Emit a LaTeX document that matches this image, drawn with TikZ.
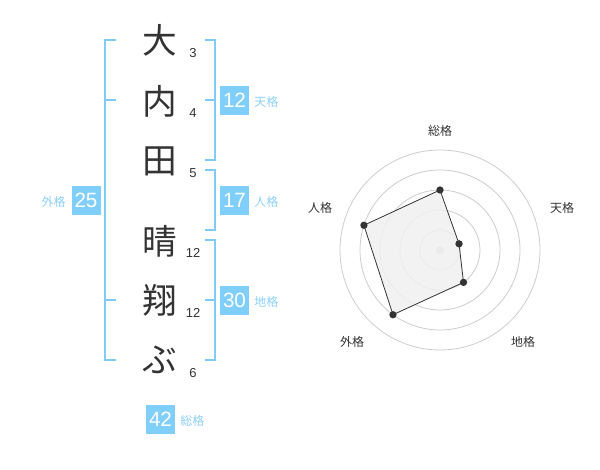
\documentclass[tikz,border=0pt]{standalone}
\usepackage{fontspec}
\setmainfont{Liberation Sans}
\newfontfamily\jp{Noto Sans CJK JP}
\definecolor{brk}{HTML}{80CBF5}
\definecolor{boxc}{HTML}{80CFFA}
\definecolor{lbl}{HTML}{8CD0F8}
\definecolor{ink}{HTML}{333333}
\definecolor{ring}{HTML}{CCCCCC}
\definecolor{area}{HTML}{F0F0F0}
\tikzset{
  kanji/.style={font=\jp\fontsize{26pt}{26pt}\selectfont, text=ink, inner sep=0pt},
  stroke/.style={font=\fontsize{9.75pt}{10pt}\selectfont, text=ink, inner sep=0pt},
  numbox/.style={fill=boxc, text=white, minimum size=21.75pt, inner sep=0pt, font=\fontsize{15.5pt}{16pt}\selectfont},
  kaku/.style={font=\jp\fontsize{9pt}{9pt}\selectfont, text=lbl, inner sep=0pt},
  axlabel/.style={font=\jp\fontsize{9pt}{9pt}\selectfont, text=ink, inner sep=0pt},
  bracket/.style={draw=brk, line width=1.5pt},
  ringline/.style={draw=ring, line width=0.6pt},
  dot/.style={circle, fill=ink, inner sep=0pt, minimum size=5.5pt},
}
\begin{document}
\begin{tikzpicture}[x=0.75pt,y=-0.75pt]
\useasboundingbox (0,0) rectangle (600,470);
% characters
\node[kanji] (c1) at (160,40) {大};
\node[kanji] (c2) at (160,101) {内};
\node[kanji] (c3) at (160,161) {田};
\node[kanji] (c4) at (160,241) {晴};
\node[kanji] (c5) at (160,300) {翔};
\node[kanji] (c6) at (160,360) {ぶ};
% stroke counts
\node[stroke] (s1) at (193,53) {3};
\node[stroke] (s2) at (193,113) {4};
\node[stroke] (s3) at (193,173) {5};
\node[stroke] (s4) at (193,253) {12};
\node[stroke] (s5) at (193,313) {12};
\node[stroke] (s6) at (193,373) {6};
% outer bracket
\draw[bracket] (116,40) -- (105,40) -- (105,360) -- (116,360);
\draw[bracket] (105,100) -- (116,100);
\draw[bracket] (105,300) -- (116,300);
% right brackets
\draw[bracket] (205,40) -- (214.5,40) -- (214.5,160) -- (205,160);
\draw[bracket] (205,100) -- (214.5,100);
\draw[bracket] (205,170) -- (214.5,170) -- (214.5,230) -- (205,230);
\draw[bracket] (205,240) -- (214.5,240) -- (214.5,360) -- (205,360);
\draw[bracket] (205,300) -- (214.5,300);
% boxes
\node[numbox] (b12) at (234.5,100.5) {12};
\node[kaku, anchor=west] (l12) at (254,102) {天格};
\node[numbox] (b17) at (234.5,200.5) {17};
\node[kaku, anchor=west] (l17) at (254,202) {人格};
\node[numbox] (b25) at (86,200.5) {25};
\node[kaku, anchor=east] (l25) at (66,202) {外格};
\node[numbox] (b30) at (234.5,300.5) {30};
\node[kaku, anchor=west] (l30) at (254,302) {地格};
\node[numbox] (b42) at (160.5,419.5) {42};
\node[kaku, anchor=west] (l42) at (180,421) {総格};
% radar
\coordinate (ctr) at (440,250);
\foreach \r in {20,40,60,80,100} \draw[ringline] (ctr) circle[radius=\r];
\node[circle, fill=ring, inner sep=0pt, minimum size=6pt] (cdot) at (ctr) {};
\path (ctr) ++(-90:60) coordinate (pS)
      (ctr) ++(-18:20) coordinate (pT)
      (ctr) ++(54:40) coordinate (pC)
      (ctr) ++(126:80) coordinate (pG)
      (ctr) ++(-162:80) coordinate (pJ);
\draw[fill=area, fill opacity=0.85, draw=ink, line width=0.6pt] (pS) -- (pT) -- (pC) -- (pG) -- (pJ) -- cycle;
\foreach \p in {pS,pT,pC,pG,pJ} \node[dot] at (\p) {};
\node[axlabel] (aS) at (440,131) {総格};
\node[axlabel] (aT) at (562,208) {天格};
\node[axlabel] (aC) at (523,342) {地格};
\node[axlabel] (aG) at (352,342) {外格};
\node[axlabel] (aJ) at (320,208) {人格};
\end{tikzpicture}
\end{document}
